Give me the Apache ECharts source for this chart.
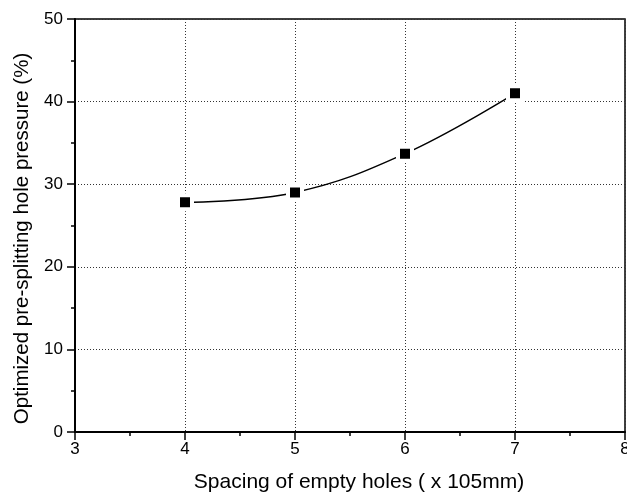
<!DOCTYPE html>
<html>
<head>
<meta charset="utf-8">
<script src="https://cdn.jsdelivr.net/npm/echarts@6/dist/echarts.min.js"></script>
<style>
  html, body { margin: 0; padding: 0; background: #fff; }
  #chart { width: 627px; height: 496px; }
</style>
</head>
<body>
<div id="chart"></div>
<script>
// Empty-hole spacing (in units of 105 mm) vs optimized pre-splitting hole pressure
const spacing = [4, 5, 6, 7];
const pressure = [27.8, 29.0, 33.7, 41.0];
const xTicks = [3, 4, 5, 6, 7, 8];
const yTicks = [0, 10, 20, 30, 40, 50];

const points = spacing.map((s, i) => [s, pressure[i]]);
const FONT = 'Liberation Sans, Arial, sans-serif';

const chart = echarts.init(document.getElementById('chart'), null, { renderer: 'canvas' });

chart.setOption({
  backgroundColor: '#fff',
  animation: false,
  grid: {
    left: 75, right: 2, top: 19, bottom: 64,
    outerBoundsMode: 'none', containLabel: false,
    show: true, borderColor: '#000', borderWidth: 1.5, backgroundColor: 'transparent'
  },
  xAxis: {
    type: 'value',
    min: xTicks[0], max: xTicks[xTicks.length - 1], interval: 1,
    name: 'Spacing of empty holes ( x 105mm)',
    nameLocation: 'middle', nameGap: 40,
    nameTextStyle: { fontFamily: FONT, fontSize: 21, color: '#000', padding: [0, 0, 0, 18] },
    axisLine: { lineStyle: { color: '#000', width: 2 } },
    axisTick: { show: true, length: 8, lineStyle: { color: '#000', width: 1.5 } },
    minorTick: { show: true, splitNumber: 2, length: 4, lineStyle: { color: '#000', width: 1.5 } },
    axisLabel: { fontFamily: FONT, fontSize: 17, color: '#000', margin: 9 },
    splitLine: { show: true, lineStyle: { color: '#333', width: 1, type: [1, 2] } }
  },
  yAxis: {
    type: 'value',
    min: yTicks[0], max: yTicks[yTicks.length - 1], interval: 10,
    name: 'Optimized pre-splitting hole pressure (%)',
    nameLocation: 'middle', nameGap: 36,
    nameTextStyle: { fontFamily: FONT, fontSize: 20.5, color: '#000', padding: [0, 26, 0, 0] },
    axisLine: { show: true, lineStyle: { color: '#000', width: 2 } },
    axisTick: { show: true, length: 8, lineStyle: { color: '#000', width: 1.5 } },
    minorTick: { show: true, splitNumber: 2, length: 4, lineStyle: { color: '#000', width: 1.5 } },
    axisLabel: { fontFamily: FONT, fontSize: 17, color: '#000', margin: 12 },
    splitLine: { show: true, lineStyle: { color: '#333', width: 1, type: [1, 2] } }
  },
  series: [{
    type: 'line',
    data: points,
    smooth: 0.4,
    symbol: 'rect',
    symbolSize: 14,
    itemStyle: { color: '#000', borderColor: '#fff', borderWidth: 4 },
    lineStyle: { color: '#000', width: 1.4 },
    z: 5
  }]
});
</script>
</body>
</html>
